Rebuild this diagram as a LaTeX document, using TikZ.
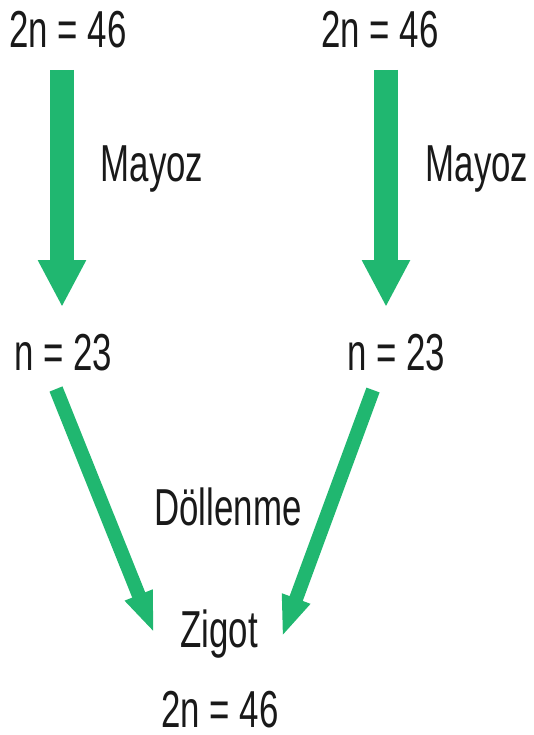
\documentclass[tikz,border=0pt]{standalone}
\usepackage{fontspec}
\setmainfont{Liberation Sans}[FakeStretch=0.67]
\usetikzlibrary{arrows.meta}
\definecolor{arrgreen}{RGB}{32,183,112}
\tikzset{
  lbl/.style={anchor=base, inner sep=0pt, font=\fontsize{52}{60}\selectfont, text=black!90},
  bigarrow/.style={draw=arrgreen, line width=24pt, line cap=butt, -{Triangle[width=45pt,length=47pt]}},
  thinarrow/.style={draw=arrgreen, line width=14pt, line cap=butt, -{Triangle[width=27pt,length=41pt]}}
}
\begin{document}
\begin{tikzpicture}[x=1pt,y=-1pt]
\useasboundingbox (0,0) rectangle (533,735);
% texts
\node[lbl] (tl) at (68,48) {2n = 46};
\node[lbl] (tr) at (380,48) {2n = 46};
\node[lbl] (ml) at (152,182) {Mayoz};
\node[lbl] (mr) at (477,182) {Mayoz};
\node[lbl] (nl) at (63,370) {n = 23};
\node[lbl] (nr) at (396,370) {n = 23};
\node[lbl] (dl) at (228,525) {Döllenme};
\node[lbl] (zg) at (219,647) {Zigot};
\node[lbl] (bt) at (220,727) {2n = 46};
% arrow end points
\coordinate (v1s) at (62,70);
\coordinate (v1e) at (62,307);
\coordinate (v2s) at (386,70);
\coordinate (v2e) at (386,307);
\coordinate (d1s) at (56,389);
\coordinate (d1e) at (154,633);
\coordinate (d2s) at (373,390);
\coordinate (d2e) at (282,637);
% arrows
\draw[bigarrow] (v1s) -- (v1e);
\draw[bigarrow] (v2s) -- (v2e);
\draw[thinarrow] (d1s) -- (d1e);
\draw[thinarrow] (d2s) -- (d2e);
\end{tikzpicture}
\end{document}
